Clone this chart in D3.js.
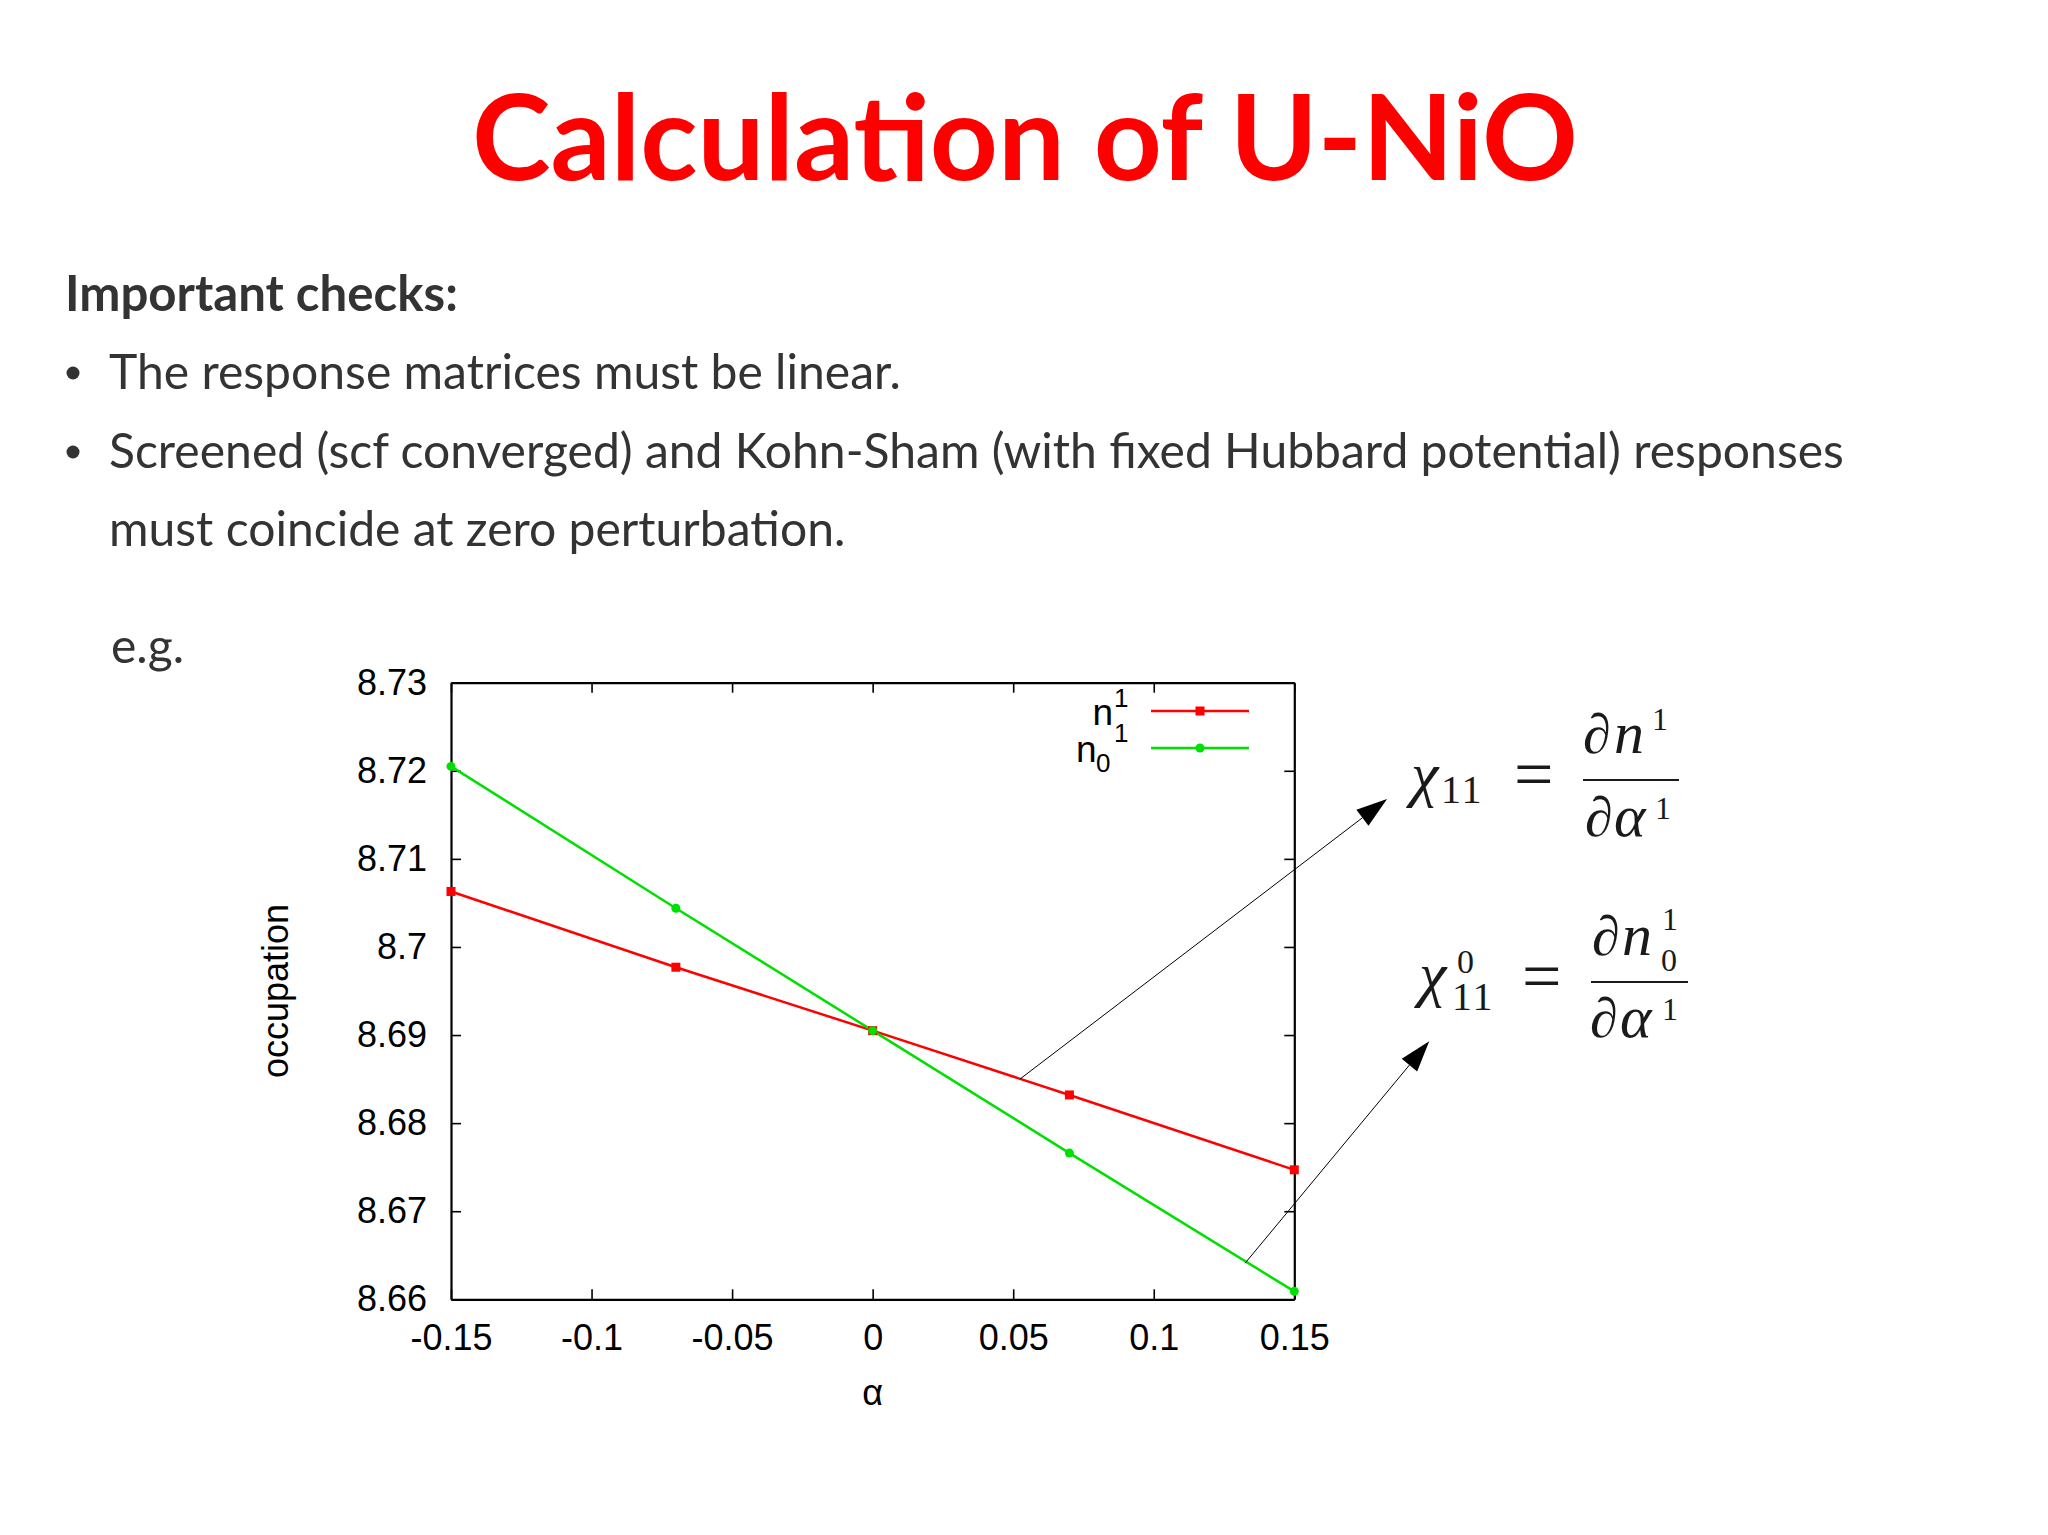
<!DOCTYPE html>
<html><head><meta charset="utf-8">
<script src="https://cdn.jsdelivr.net/npm/d3@7"></script>
<style>body{margin:0;background:#fff;} svg{display:block;}</style>
</head><body>
<svg id="c" width="2048" height="1535"></svg>
<script>
// ---------- data ----------
const alphaValues = [-0.15, -0.07, 0, 0.07, 0.15];
const n1Values = [8.7063, 8.6977, 8.6905, 8.6832, 8.6747];   // red, squares
const n0Values = [8.7205, 8.7044, 8.6905, 8.6766, 8.6609];   // green, circles
const xTicks = [-0.15, -0.1, -0.05, 0, 0.05, 0.1, 0.15];
const xTickLabels = ["-0.15", "-0.1", "-0.05", "0", "0.05", "0.1", "0.15"];
const yTicks = [8.66, 8.67, 8.68, 8.69, 8.70, 8.71, 8.72, 8.73];
const yTickLabels = ["8.66", "8.67", "8.68", "8.69", "8.7", "8.71", "8.72", "8.73"];
const titleText = "Calculation of U-NiO";
const headingText = "Important checks:";
const bulletLines = [
  "The response matrices must be linear.",
  "Screened (scf converged) and Kohn-Sham (with fixed Hubbard potential) responses",
  "must coincide at zero perturbation."
];
const egText = "e.g.";
// annotation arrows in data coordinates: [start, tip]
const arrowN1 = [[0.0524, 8.6850], [0.1830, 8.7168]];
const arrowN0 = [[0.1325, 8.6641], [0.1980, 8.6893]];

// ---------- setup ----------
const svg = d3.select("#c");
svg.append("rect").attr("width", 2048).attr("height", 1535).attr("fill", "#ffffff");

const RED = "#ff0000", GREEN = "#00e000", TEXT = "#333333";

function fitWidth(sel, target) {
  const w = sel.node().getComputedTextLength();
  const fs = parseFloat(sel.attr("font-size"));
  sel.attr("font-size", fs * target / w);
  return fs * target / w;
}

// ---------- title ----------
const title = svg.append("text")
  .attr("x", 1025).attr("y", 180)
  .attr("text-anchor", "middle")
  .attr("font-family", "Lato, 'Open Sans', sans-serif")
  .attr("font-weight", 700)
  .attr("font-size", 100)
  .attr("fill", RED)
  .text(titleText);
fitWidth(title, 1106);

// ---------- body text ----------
const heading = svg.append("text")
  .attr("x", 65).attr("y", 311)
  .attr("font-family", "Lato, 'Open Sans', sans-serif")
  .attr("font-weight", 700)
  .attr("font-size", 46)
  .attr("fill", TEXT)
  .text(headingText);
fitWidth(heading, 393);

const lineYs = [389, 468, 546];
const lines = bulletLines.map((t, i) => svg.append("text")
  .attr("x", 109).attr("y", lineYs[i])
  .attr("font-family", "Lato, 'Open Sans', sans-serif")
  .attr("font-size", 46)
  .attr("fill", TEXT)
  .text(t));
const bodyFs = fitWidth(lines[1], 1735);
lines.forEach(l => l.attr("font-size", bodyFs));

// bullets
[0, 1].forEach(i => {
  svg.append("circle")
    .attr("cx", 73).attr("cy", lineYs[i] - 16).attr("r", 6.5)
    .attr("fill", TEXT);
});

svg.append("text")
  .attr("x", 111).attr("y", 663)
  .attr("font-family", "Lato, 'Open Sans', sans-serif")
  .attr("font-size", bodyFs)
  .attr("fill", TEXT)
  .text(egText);

// ---------- chart ----------
const x = d3.scaleLinear().domain([-0.15, 0.15]).range([451, 1294.3]);
const y = d3.scaleLinear().domain([8.66, 8.73]).range([1299.3, 682.7]);
const AX_FONT = "'Liberation Sans', Arial, sans-serif";

const gx = svg.append("g").attr("transform", `translate(0,${y.range()[0]})`)
  .call(d3.axisBottom(x).tickValues(xTicks).tickFormat((d, i) => xTickLabels[i])
    .tickSizeInner(-10).tickSizeOuter(0).tickPadding(25));
const gxt = svg.append("g").attr("transform", `translate(0,${y.range()[1]})`)
  .call(d3.axisTop(x).tickValues(xTicks).tickFormat("")
    .tickSizeInner(-10).tickSizeOuter(0));
const gy = svg.append("g").attr("transform", `translate(${x.range()[0]},0)`)
  .call(d3.axisLeft(y).tickValues(yTicks).tickFormat((d, i) => yTickLabels[i])
    .tickSizeInner(-10).tickSizeOuter(0).tickPadding(24));
const gyr = svg.append("g").attr("transform", `translate(${x.range()[1]},0)`)
  .call(d3.axisRight(y).tickValues(yTicks).tickFormat("")
    .tickSizeInner(-10).tickSizeOuter(0));

[gx, gxt, gy, gyr].forEach(g => {
  g.select(".domain").attr("stroke", "#000").attr("stroke-width", 2.2);
  g.selectAll(".tick line").attr("stroke", "#000").attr("stroke-width", 1.6);
  g.selectAll(".tick text").attr("font-family", AX_FONT).attr("font-size", 36).attr("fill", "#000");
});

// axis titles
svg.append("text")
  .attr("x", (x.range()[0] + x.range()[1]) / 2).attr("y", 1405)
  .attr("text-anchor", "middle")
  .attr("font-family", AX_FONT).attr("font-size", 36).attr("fill", "#000")
  .text("α");
svg.append("text")
  .attr("transform", `translate(288,${(y.range()[0] + y.range()[1]) / 2}) rotate(-90)`)
  .attr("text-anchor", "middle")
  .attr("font-family", AX_FONT).attr("font-size", 36).attr("fill", "#000")
  .text("occupation");

// data lines
const n1Data = alphaValues.map((a, i) => [a, n1Values[i]]);
const n0Data = alphaValues.map((a, i) => [a, n0Values[i]]);
const line = d3.line().x(d => x(d[0])).y(d => y(d[1]));

svg.append("path").datum(n1Data).attr("d", line)
  .attr("fill", "none").attr("stroke", RED).attr("stroke-width", 2.5);
svg.append("path").datum(n0Data).attr("d", line)
  .attr("fill", "none").attr("stroke", GREEN).attr("stroke-width", 2.5);

svg.append("g").selectAll("rect").data(n1Data).join("rect")
  .attr("x", d => x(d[0]) - 4.5).attr("y", d => y(d[1]) - 4.5)
  .attr("width", 9).attr("height", 9).attr("fill", RED);
svg.append("g").selectAll("circle").data(n0Data).join("circle")
  .attr("cx", d => x(d[0])).attr("cy", d => y(d[1])).attr("r", 4.5)
  .attr("fill", GREEN);

// legend
const leg = svg.append("g").attr("font-family", AX_FONT).attr("fill", "#000");
leg.append("text").attr("x", 1113).attr("y", 725).attr("text-anchor", "end")
  .attr("font-size", 37).text("n");
leg.append("text").attr("x", 1114).attr("y", 707).attr("font-size", 26).text("1");
leg.append("text").attr("x", 1076).attr("y", 762).attr("font-size", 37).text("n");
leg.append("text").attr("x", 1096).attr("y", 772).attr("font-size", 26).text("0");
leg.append("text").attr("x", 1114).attr("y", 742).attr("font-size", 26).text("1");

const legX1 = 1151, legX2 = 1249;
svg.append("line").attr("x1", legX1).attr("x2", legX2).attr("y1", 711).attr("y2", 711)
  .attr("stroke", RED).attr("stroke-width", 2.5);
svg.append("rect").attr("x", (legX1 + legX2) / 2 - 4.5).attr("y", 711 - 4.5)
  .attr("width", 9).attr("height", 9).attr("fill", RED);
svg.append("line").attr("x1", legX1).attr("x2", legX2).attr("y1", 748).attr("y2", 748)
  .attr("stroke", GREEN).attr("stroke-width", 2.5);
svg.append("circle").attr("cx", (legX1 + legX2) / 2).attr("cy", 748).attr("r", 4.5)
  .attr("fill", GREEN);

// arrows
function arrow(a) {
  const [sx, sy] = [x(a[0][0]), y(a[0][1])];
  const [tx, ty] = [x(a[1][0]), y(a[1][1])];
  const dx = tx - sx, dy = ty - sy, L = Math.hypot(dx, dy);
  const ux = dx / L, uy = dy / L;
  const hl = 31, hw = 10;
  const bx = tx - ux * hl, by = ty - uy * hl;
  svg.append("line").attr("x1", sx).attr("y1", sy).attr("x2", bx).attr("y2", by)
    .attr("stroke", "#000").attr("stroke-width", 1);
  svg.append("polygon")
    .attr("points", [[tx, ty], [bx - uy * hw, by + ux * hw], [bx + uy * hw, by - ux * hw]].map(p => p.join(",")).join(" "))
    .attr("fill", "#000");
}
arrow(arrowN1);
arrow(arrowN0);

// ---------- formulas ----------
const SERIF = "'Liberation Serif', 'DejaVu Serif', serif";
const INK = "#1a1a1a";
const fg = svg.append("g").attr("fill", INK).attr("font-family", SERIF);
function t(xp, yp, s, size, italic) {
  return fg.append("text").attr("x", xp).attr("y", yp).attr("font-size", size)
    .attr("font-style", italic ? "italic" : "normal").text(s);
}
function frac(x1, x2, yy) {
  fg.append("line").attr("x1", x1).attr("x2", x2).attr("y1", yy).attr("y2", yy)
    .attr("stroke", INK).attr("stroke-width", 2.2);
}
// chi_11 = dn^1 / dalpha^1
t(1411, 795, "χ", 62, true);
t(1441, 803, "11", 40, false).attr("letter-spacing", 2);
t(1514, 798, "=", 70, false);
frac(1583, 1679, 780);
t(1583, 753, "∂", 56, false);
t(1614, 753, "n", 60, true);
t(1652, 730, "1", 32, false);
t(1585, 836, "∂", 56, false);
t(1614, 836, "α", 60, true);
t(1655, 819, "1", 32, false);

// chi^0_11 = dn_0^1 / dalpha^1
t(1419, 995, "χ", 62, true);
t(1457, 973, "0", 34, false);
t(1452, 1010, "11", 40, false).attr("letter-spacing", 2);
t(1522, 1000, "=", 70, false);
frac(1591, 1688, 982);
t(1592, 955, "∂", 56, false);
t(1622, 955, "n", 60, true);
t(1662, 930, "1", 32, false);
t(1661, 971, "0", 32, false);
t(1590, 1037, "∂", 56, false);
t(1620, 1037, "α", 60, true);
t(1662, 1020, "1", 32, false);
</script>
</body></html>
